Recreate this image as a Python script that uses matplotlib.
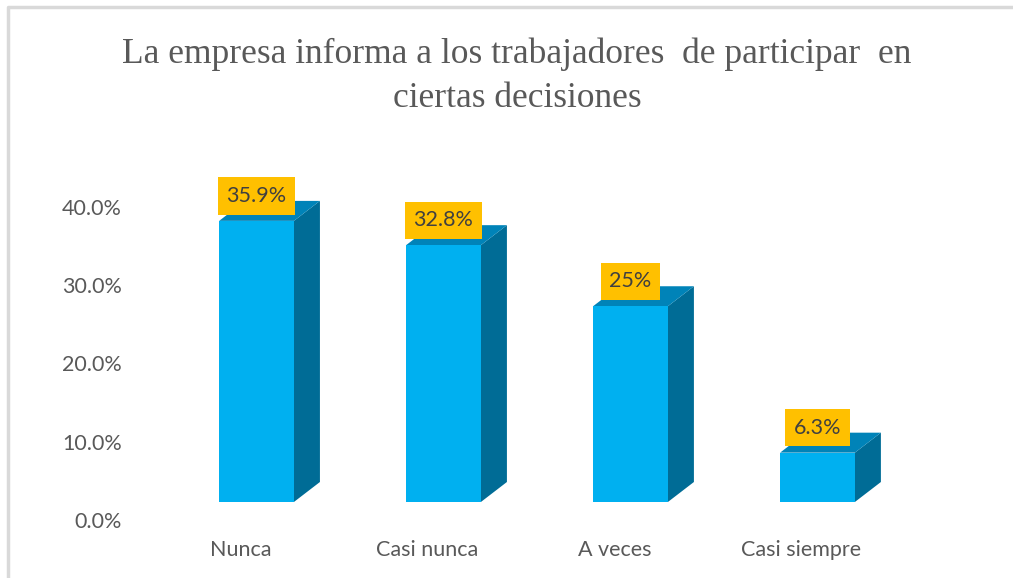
import matplotlib
matplotlib.use("Agg")
import matplotlib.pyplot as plt
from matplotlib.patches import Polygon, Rectangle

categories = ["Nunca", "Casi nunca", "A veces", "Casi siempre"]
values = [35.9, 32.8, 25.0, 6.3]
value_labels = ["35.9%", "32.8%", "25%", "6.3%"]
y_ticks = [0, 10, 20, 30, 40]
y_tick_labels = ["0.0%", "10.0%", "20.0%", "30.0%", "40.0%"]
title = "La empresa informa a los trabajadores  de participar  en\nciertas decisiones"

FRONT = "#00B0F0"
TOP = "#0083B8"
SIDE = "#006C96"
LABEL_BG = "#FFC000"
TEXT = "#595959"

W, H = 1013, 578
fig = plt.figure(figsize=(W / 100, H / 100), dpi=100)
fig.patch.set_facecolor("white")

# light frame along the top and left edges
frame = fig.add_axes([0, 0, 1, 1], zorder=-1)
frame.set_xlim(0, W)
frame.set_ylim(H, 0)
frame.axis("off")
frame.plot([8, 8, W], [H, 7, 7], color="#D9D9D9", lw=2.5, solid_capstyle="butt")

left, right, bottom, top = 135, 960, 530, 150
ax = fig.add_axes([left / W, 1 - bottom / H, (right - left) / W, (bottom - top) / H])
ax.set_xlim(-0.650, 3.762)
ax.set_ylim(-1.28, 47.25)
for s in ax.spines.values():
    s.set_visible(False)

bar_w = 0.40      # front face width (category units)
dx = 0.139        # depth offset, x
dy = 2.55         # depth offset, y (percent units)
base = 2.3        # floor of the front face

for i, (v, lab) in enumerate(zip(values, value_labels)):
    x0, x1 = i - bar_w / 2, i + bar_w / 2
    y0, y1 = base, base + v
    side = Polygon([(x1, y0), (x1 + dx, y0 + dy), (x1 + dx, y1 + dy), (x1, y1)],
                   closed=True, facecolor=SIDE, edgecolor="none", zorder=2)
    topf = Polygon([(x0, y1), (x1, y1), (x1 + dx, y1 + dy), (x0 + dx, y1 + dy)],
                   closed=True, facecolor=TOP, edgecolor="none", zorder=2)
    front = Rectangle((x0, y0), bar_w, v, facecolor=FRONT, edgecolor="none", zorder=3)
    ax.add_patch(side)
    ax.add_patch(topf)
    ax.add_patch(front)
    ax.text(i, y1 + 1.9, lab, ha="center", va="bottom", fontsize=15.5,
            family="Lato", color="#404040", zorder=5,
            bbox=dict(boxstyle="square,pad=0.4", facecolor=LABEL_BG, edgecolor="none"))

ax.set_yticks(y_ticks)
ax.set_yticklabels(y_tick_labels, fontsize=15.5, family="Lato", color=TEXT)
ax.tick_params(axis="y", length=0, pad=9.5)
ax.set_xticks([i - 0.087 for i in range(len(categories))])
ax.set_xticklabels(categories, fontsize=15.5, family="Lato", color=TEXT)
ax.tick_params(axis="x", length=0, pad=7)

fig.text(517 / W, 1 - 76 / H, title, ha="center", va="center", fontsize=25.5,
         family="Liberation Serif", color=TEXT, linespacing=1.45)

fig.savefig("out.png", dpi=100)
